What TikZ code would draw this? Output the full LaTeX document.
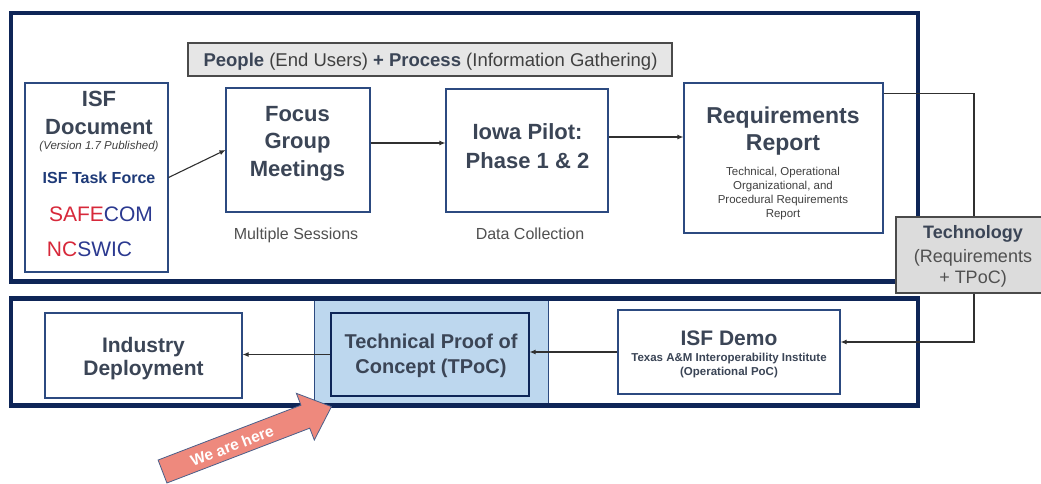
\documentclass[tikz,border=0pt]{standalone}
\usepackage{fontspec}
\setmainfont{Liberation Sans}
\usetikzlibrary{arrows.meta}
\definecolor{navy}{HTML}{0E2557}
\definecolor{boxc}{HTML}{2C4A80}
\definecolor{headc}{HTML}{3B4556}
\definecolor{greyc}{HTML}{505050}
\definecolor{smallc}{HTML}{404040}
\definecolor{linec}{HTML}{303030}
\definecolor{hlfill}{HTML}{BDD7EE}
\definecolor{banfill}{HTML}{E6E6E6}
\definecolor{banedge}{HTML}{4A4A4A}
\definecolor{techfill}{HTML}{DCDCDC}
\definecolor{salmon}{HTML}{EE897D}
\definecolor{arredge}{HTML}{4A5F8A}
\definecolor{safered}{HTML}{D7283A}
\definecolor{safenavy}{HTML}{2B3990}
\definecolor{tfnavy}{HTML}{1E3A78}
\newcommand\fsz[1]{\fontsize{#1}{#1}\selectfont}
\begin{document}
\begin{tikzpicture}[x=1pt,y=-1pt,
  box/.style={draw=boxc, line width=1.1pt, fill=white, inner sep=0pt},
  banner/.style={draw=banedge, line width=1.2pt, fill=banfill, inner sep=0pt},
  techbox/.style={draw=banedge, line width=1.2pt, fill=techfill, inner sep=0pt},
  hlbox/.style={draw=boxc, line width=1pt, fill=hlfill, inner sep=0pt},
  outer/.style={draw=navy, line width=4.5pt},
  txt/.style={anchor=base, inner sep=0pt, text=headc},
  head/.style={txt, font=\bfseries\fsz{22}},
  conn/.style={draw=linec, line width=1.1pt, -{Latex[length=6pt,width=5pt]}},
  plain/.style={draw=linec, line width=1.1pt}]
\useasboundingbox (0,0) rectangle (1041,483);
\fill[white] (0,0) rectangle (1041,483);

% highlight behind TPoC
\node[hlbox, minimum width=234pt, minimum height=107pt] (hl) at (431,352) {};

% outer navy frames
\draw[outer] (11,13) rectangle (918,281.5);
\draw[outer] (11,298.5) rectangle (918,405.5);

% boxes
\node[box, minimum width=143pt, minimum height=189pt] (isf) at (96.5,177.5) {};
\node[box, minimum width=144pt, minimum height=124pt] (focus) at (298,150) {};
\node[box, minimum width=162pt, minimum height=123pt] (iowa) at (527,150.5) {};
\node[box, minimum width=199pt, minimum height=150pt] (req) at (783.5,158) {};
\node[banner, minimum width=484pt, minimum height=33pt] (ban) at (430,59.5) {};
\node[box, minimum width=197pt, minimum height=85pt] (ind) at (143.5,355.5) {};
\node[box, fill=hlfill, draw=navy, minimum width=198pt, minimum height=83pt] (tpoc) at (430,354.5) {};
\node[box, minimum width=222pt, minimum height=84pt] (demo) at (729,352) {};
\node[techbox, minimum width=156pt, minimum height=76pt] (tech) at (974,255) {};

% connectors
\draw[conn] (isf.east) -- (focus.west);
\path (focus.east) ++(0,-7) coordinate (fa);
\draw[conn] (fa) -- (fa -| iowa.west);
\path (iowa.east) ++(0,-13.5) coordinate (ia);
\draw[conn] (ia) -- (ia -| req.west);
\path (req.north east) ++(0,11) coordinate (ra);
\draw[plain] (ra) -| (tech.north);
\path (demo.east) ++(0,-10) coordinate (da);
\draw[conn] (tech.south) |- (da);
\draw[conn] (demo.west) -- (demo.west -| tpoc.east);
\draw[conn] (tpoc.west) -- (tpoc.west -| ind.east);

% banner text
\node[txt, text=smallc, font=\fsz{18.5}] (bant) at (430.5,66)
  {\textcolor{headc}{\bfseries People} (End Users) \textcolor{headc}{\bfseries + Process} (Information Gathering)};

% ISF document
\node[head] (isf1) at (99,106.7) {ISF};
\node[head] (isf2) at (99,134) {Document};
\node[txt, text=smallc, font=\itshape\fsz{11.5}] (isf3) at (99,149) {(Version 1.7 Published)};
\node[txt, text=tfnavy, font=\bfseries\fsz{16}] (isf4) at (99,183) {ISF Task Force};
\node[txt, font=\fsz{21}] (safe) at (101,221) {\textcolor{safered}{SAFE}\textcolor{safenavy}{COM}};
\node[txt, font=\fsz{21}] (ncs) at (89.5,256) {\textcolor{safered}{NC}\textcolor{safenavy}{SWIC}};

% Focus group
\node[head] (fo1) at (297.5,121) {Focus};
\node[head] (fo2) at (297.5,148.5) {Group};
\node[head] (fo3) at (297.5,176.5) {Meetings};
\node[txt, text=greyc, font=\fsz{16}] (cap1) at (296,239) {Multiple Sessions};

% Iowa
\node[head] (io1) at (527.5,139.3) {Iowa Pilot:};
\node[head] (io2) at (527.5,168.3) {Phase 1 \& 2};
\node[txt, text=greyc, font=\fsz{16}] (cap2) at (530,239) {Data Collection};

% Requirements report
\node[txt, font=\bfseries\fsz{23}] (rq1) at (783,123) {Requirements};
\node[txt, font=\bfseries\fsz{23}] (rq2) at (783,150) {Report};
\node[txt, text=smallc, font=\fsz{11.5}] (rr1) at (783,175) {Technical, Operational};
\node[txt, text=smallc, font=\fsz{11.5}] (rr2) at (783,189.5) {Organizational, and};
\node[txt, text=smallc, font=\fsz{11.5}] (rr3) at (783,203.5) {Procedural Requirements};
\node[txt, text=smallc, font=\fsz{11.5}] (rr4) at (783,217.5) {Report};

% Technology
\node[txt, font=\bfseries\fsz{18}] (te1) at (973,238) {Technology};
\node[txt, text=greyc, font=\fsz{18}] (te2) at (973,262.5) {(Requirements};
\node[txt, text=greyc, font=\fsz{18}] (te3) at (973,283) {+ TPoC)};

% bottom row
\node[txt, font=\bfseries\fsz{21}] (in1) at (143.5,352) {Industry};
\node[txt, font=\bfseries\fsz{21}] (in2) at (143.5,375) {Deployment};
\node[txt, font=\bfseries\fsz{20}] (tp1) at (431,348) {Technical Proof of};
\node[txt, font=\bfseries\fsz{20}] (tp2) at (431,373) {Concept (TPoC)};
\node[txt, font=\bfseries\fsz{21}] (de1) at (729,345) {ISF Demo};
\node[txt, font=\bfseries\fsz{11.5}] (de2) at (729,361) {Texas A\&M Interoperability Institute};
\node[txt, font=\bfseries\fsz{11.5}] (de3) at (729,375) {(Operational PoC)};

% we are here arrow
\begin{scope}[shift={(162.5,471.5)}, rotate=21, x=1pt, y=1pt]
\draw[fill=salmon, draw=arredge, line width=0.8pt]
  (0,12.3) -- (153,12.3) -- (153,25) -- (181,0) -- (153,-25) -- (153,-12.3) -- (0,-12.3) -- cycle;
\node[transform shape, text=white, font=\bfseries\fsz{15.5}, inner sep=0pt] (here) at (74,-1) {We are here};
\end{scope}
\end{tikzpicture}
\end{document}
